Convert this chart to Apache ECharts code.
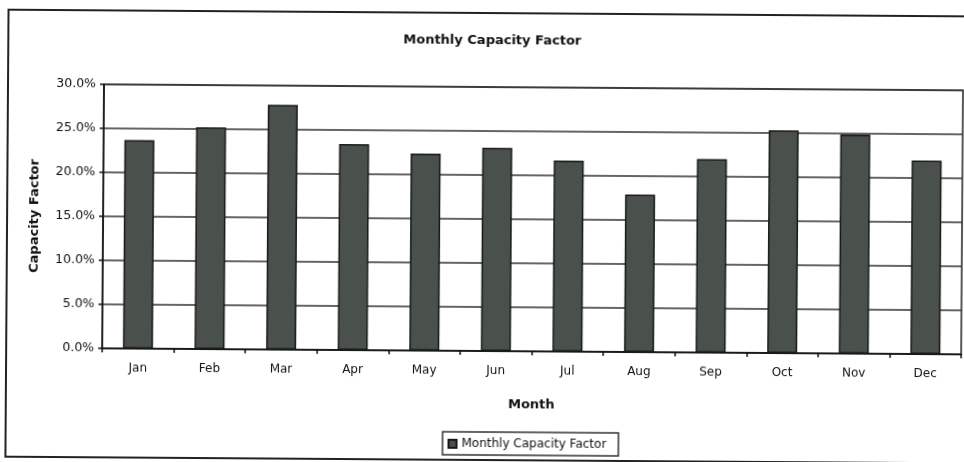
<!DOCTYPE html>
<html>
<head>
<meta charset="utf-8">
<script src="https://cdn.jsdelivr.net/npm/echarts@6/dist/echarts.min.js"></script>
<style>
  html, body { margin: 0; padding: 0; background: #ffffff; overflow: hidden; }
  #chart { width: 964px; height: 462px; transform: rotate(0.4deg); transform-origin: 482px 231px; }
</style>
</head>
<body>
<div id="chart"></div>
<script>
// Monthly capacity factor, percent
const months = ['Jan', 'Feb', 'Mar', 'Apr', 'May', 'Jun', 'Jul', 'Aug', 'Sep', 'Oct', 'Nov', 'Dec'];
const capacityFactor = [23.7, 25.2, 27.8, 23.4, 22.4, 23.1, 21.7, 17.9, 22.0, 25.3, 24.9, 22.0];
const yTicks = [0, 5, 10, 15, 20, 25, 30];

const chart = echarts.init(document.getElementById('chart'), null, { renderer: 'canvas' });
const font = '"DejaVu Sans", Verdana, sans-serif';

chart.setOption({
  animation: false,
  backgroundColor: '#ffffff',
  graphic: [{
    type: 'rect',
    shape: { x: 7, y: 13, width: 1000, height: 447 },
    style: { fill: 'none', stroke: '#222', lineWidth: 2 },
    silent: true,
    z: -1
  }],
  title: {
    text: 'Monthly Capacity Factor',
    left: 486,
    textAlign: 'center',
    top: 29,
    textStyle: { fontFamily: font, fontSize: 13, fontWeight: 'bold', color: '#111' }
  },
  legend: {
    data: ['Monthly Capacity Factor'],
    left: 444,
    top: 432,
    padding: [6, 12, 5, 5],
    itemWidth: 8,
    itemHeight: 8,
    itemGap: 5,
    borderColor: '#333',
    borderWidth: 1.5,
    borderRadius: 0,
    icon: 'rect',
    textStyle: { fontFamily: font, fontSize: 12, color: '#111' }
  },
  grid: {
    left: 103, right: 2, top: 87, bottom: 111,
    show: true, borderColor: '#222', borderWidth: 1.5, backgroundColor: 'transparent'
  },
  xAxis: {
    type: 'category',
    data: months,
    name: 'Month',
    nameLocation: 'middle',
    nameGap: 47,
    nameTextStyle: { fontFamily: font, fontSize: 13, fontWeight: 'bold', color: '#111' },
    axisLine: { lineStyle: { color: '#111', width: 1.5 } },
    axisTick: { show: true, interval: 0, alignWithLabel: false, length: 4, lineStyle: { color: '#111', width: 1.5 } },
    axisLabel: { margin: 14, fontFamily: font, fontSize: 12, color: '#111', interval: 0 }
  },
  yAxis: {
    type: 'value',
    min: yTicks[0],
    max: yTicks[yTicks.length - 1],
    interval: 5,
    name: 'Capacity Factor',
    nameLocation: 'middle',
    nameGap: 62,
    nameRotate: 90,
    nameTextStyle: { fontFamily: font, fontSize: 13, fontWeight: 'bold', color: '#111' },
    axisLine: { show: true, lineStyle: { color: '#111', width: 1.5 } },
    axisTick: { show: true, length: 4, lineStyle: { color: '#111', width: 1.5 } },
    axisLabel: {
      margin: 8, fontFamily: font, fontSize: 12.5, color: '#111',
      formatter: v => v.toFixed(1) + '%'
    },
    splitLine: { show: true, lineStyle: { color: '#333', width: 1.6 } }
  },
  series: [{
    name: 'Monthly Capacity Factor',
    type: 'bar',
    data: capacityFactor,
    barWidth: 30,
    itemStyle: {
      color: '#4a504c',
      borderColor: '#161816',
      borderWidth: 1.5
    }
  }]
});
</script>
</body>
</html>
